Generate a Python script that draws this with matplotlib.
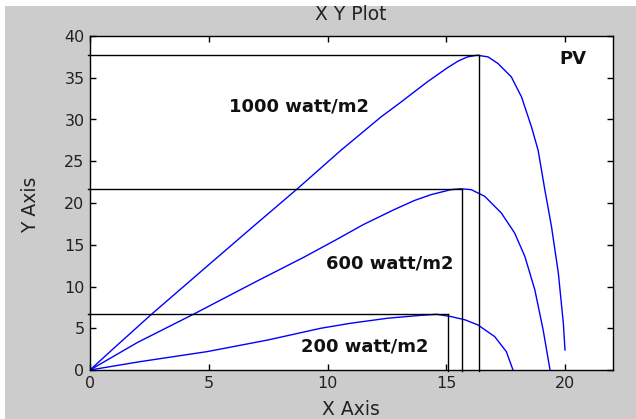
import matplotlib
matplotlib.use("Agg")
import matplotlib.pyplot as plt
from matplotlib.patches import Rectangle

# PV curves (voltage, power)
v1000 = [0, 1.0, 2.6, 5.0, 7.0, 8.73, 10.56, 12.25, 13.1, 14.2, 15.0, 15.5,
         15.9, 16.3, 16.76, 17.18, 17.74, 18.17, 18.59, 18.87, 19.15, 19.43,
         19.72, 19.93, 20.0]
p1000 = [0, 2.6, 6.7, 12.6, 17.5, 21.7, 26.3, 30.3, 32.1, 34.5, 36.1, 37.0,
         37.5, 37.7, 37.5, 36.7, 35.1, 32.7, 29.1, 26.3, 21.6, 17.2,
         11.6, 5.6, 2.4]

v600 = [0, 2.0, 4.37, 7.0, 9.0, 10.3, 11.5, 12.8, 13.66, 14.36, 15.2, 15.6,
        16.05, 16.62, 17.32, 17.88, 18.31, 18.73, 19.08, 19.37]
p600 = [0, 3.3, 6.7, 10.6, 13.5, 15.5, 17.4, 19.2, 20.3, 21.0, 21.6, 21.7,
        21.6, 20.8, 18.8, 16.4, 13.6, 9.6, 4.8, 0]

v200 = [0, 2.11, 4.93, 7.5, 9.72, 10.98, 12.53, 13.94, 14.6, 15.2, 15.8, 16.33,
        17.04, 17.53, 17.81]
p200 = [0, 1.0, 2.2, 3.6, 5.0, 5.6, 6.2, 6.55, 6.67, 6.4, 6.0, 5.4,
        4.0, 2.2, 0]

# maximum power points
mpp_v = [16.38, 15.66, 15.07]
mpp_p = [37.7, 21.7, 6.67]

labels = ["1000 watt/m2", "600 watt/m2", "200 watt/m2"]
label_xy = [(8.81, 31.6), (12.6, 12.8), (11.55, 2.8)]

fig = plt.figure(figsize=(6.36, 4.19), dpi=100, facecolor="white")
fig.patches.append(Rectangle((5 / 636, 0), 1, 1 - 6 / 419,
                             transform=fig.transFigure, facecolor="#cccccc",
                             edgecolor="none", zorder=-10))
ax = fig.add_axes([90 / 636, 1 - 370 / 419, 522.5 / 636, 334 / 419])
ax.set_zorder(1)
ax.set_facecolor("white")

for v, p in [(v1000, p1000), (v600, p600), (v200, p200)]:
    ax.plot(v, p, color="#0000ff", lw=1.0)

for vm, pm in zip(mpp_v, mpp_p):
    ax.plot([-0.1, vm], [pm, pm], color="black", lw=1.0, clip_on=False)
    ax.plot([vm, vm], [-0.15, pm], color="black", lw=1.0, clip_on=False)

for txt, (x, y) in zip(labels, label_xy):
    ax.text(x, y, txt, ha="center", va="center", fontsize=13,
            fontweight="bold", color="#111111")
ax.text(20.35, 37.3, "PV", ha="center", va="center", fontsize=13,
        fontweight="bold", color="#111111")

ax.set_xlim(0, 22)
ax.set_ylim(0, 40)
ax.set_xticks([0, 5, 10, 15, 20])
ax.set_yticks(range(0, 41, 5))
ax.tick_params(direction="in", length=4, width=1, top=True, right=True,
               labelsize=11.5, labelcolor="#222222", pad=4)
for s in ax.spines.values():
    s.set_color("black")
    s.set_linewidth(1.0)

fig.text(351 / 636, 1 - 15 / 419, "X Y Plot", ha="center", va="center",
         fontsize=13.5, color="#222222")
fig.text(351 / 636, 1 - 409 / 419, "X Axis", ha="center", va="center",
         fontsize=13.5, color="#222222")
fig.text(31 / 636, 1 - 205 / 419, "Y Axis", ha="center", va="center",
         rotation=90, fontsize=13.5, color="#222222")

fig.savefig("out.png", dpi=100, facecolor=fig.get_facecolor())
